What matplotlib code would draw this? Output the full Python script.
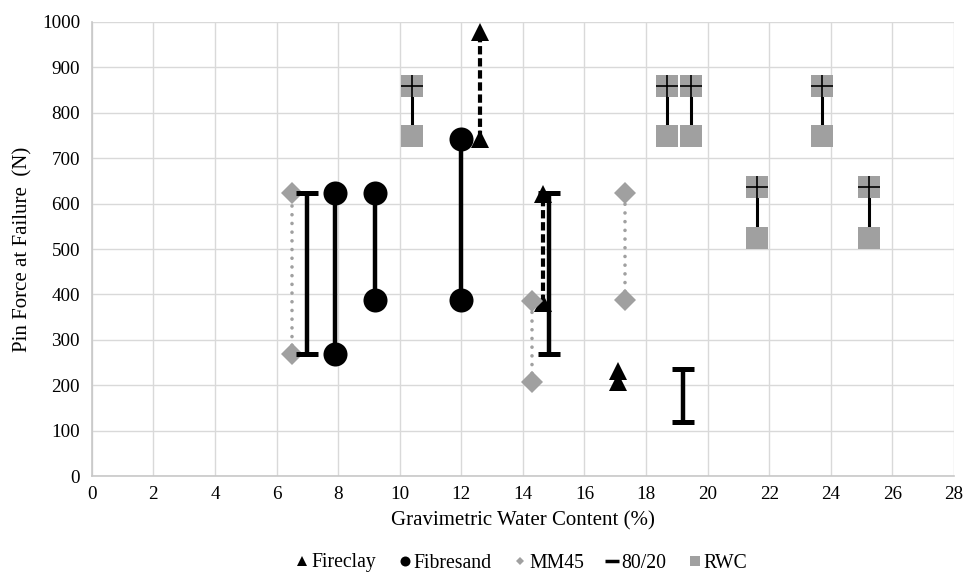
import matplotlib
matplotlib.use("Agg")
import matplotlib.pyplot as plt
from matplotlib.lines import Line2D

plt.rcParams['font.family'] = ['Liberation Serif', 'DejaVu Serif']

# ---- data ----
fireclay_x = [12.6, 14.65, 17.1]
fireclay_low = [742, 380, 207]
fireclay_high = [978, 621, 232]

fibresand_x = [7.9, 9.2, 12.0]
fibresand_low = [268, 387, 387]
fibresand_high = [624, 624, 742]

mm45_x = [6.5, 14.3, 17.3]
mm45_low = [268, 207, 387]
mm45_high = [624, 386, 624]

blend_x = [7.0, 14.85, 19.2]
blend_low = [268, 268, 118]
blend_high = [624, 623, 236]

rwc_x = [10.4, 18.68, 19.46, 21.6, 23.7, 25.25]
rwc_low = [748, 748, 748, 524, 748, 524]
rwc_high = [860, 860, 860, 636, 860, 636]

legend_labels = ["Fireclay", "Fibresand", "MM45", "80/20", "RWC"]
x_ticks = list(range(0, 29, 2))
y_ticks = list(range(0, 1001, 100))

GRAY = '#a0a0a0'

fig = plt.figure(figsize=(9.78, 5.74), dpi=100)
ax = fig.add_axes([0.0938, 0.1707, 0.8817, 0.791])

# Fireclay: dashed black with triangles
for x, lo, hi in zip(fireclay_x, fireclay_low, fireclay_high):
    ax.plot([x, x], [lo, hi], color='black', lw=3.0, linestyle=(0, (2.0, 0.9)),
            marker='^', markersize=13.3, markeredgewidth=0, markerfacecolor='black',
            zorder=3, clip_on=False)

# Fibresand: solid black with circles
for x, lo, hi in zip(fibresand_x, fibresand_low, fibresand_high):
    ax.plot([x, x], [lo, hi], color='black', lw=3.2, solid_capstyle='butt',
            marker='o', markersize=17.3, markeredgewidth=0, markerfacecolor='black',
            zorder=4)

# MM45: dotted gray with diamonds
for x, lo, hi in zip(mm45_x, mm45_low, mm45_high):
    ax.plot([x, x], [lo, hi], color=GRAY, lw=2.6, linestyle=(0, (0.01, 2.4)),
            dash_capstyle='round', zorder=5)
    ax.plot([x, x], [lo, hi], linestyle='none', marker='D', markersize=11.7,
            markeredgewidth=0, markerfacecolor=GRAY, zorder=5)

# 80/20: solid black with dash caps
for x, lo, hi in zip(blend_x, blend_low, blend_high):
    ax.plot([x, x], [lo, hi], color='black', lw=3.2, solid_capstyle='butt',
            marker='_', markersize=16.5, markeredgewidth=3.6, markeredgecolor='black',
            zorder=6)

# RWC: solid black with gray squares, plus on top square
for x, lo, hi in zip(rwc_x, rwc_low, rwc_high):
    ax.plot([x, x], [lo, hi], color='black', lw=2.2, solid_capstyle='butt', zorder=7)
    ax.plot([x, x], [lo, hi], linestyle='none', marker='s', markersize=16.0,
            markeredgewidth=0, markerfacecolor=GRAY, zorder=7)
    ax.plot([x], [hi], linestyle='none', marker='+', markersize=16.0,
            markeredgewidth=1.2, markeredgecolor='black', zorder=8)

ax.set_xlim(0, 28)
ax.set_ylim(0, 1000)
ax.set_xticks(x_ticks)
ax.set_yticks(y_ticks)
ax.tick_params(axis='both', length=0, labelsize=13.8, colors='black')
ax.tick_params(axis='x', pad=7)
ax.tick_params(axis='y', pad=8.5)
ax.grid(True, color='#d9d9d9', lw=1.0)
ax.set_axisbelow(True)
for s in ['top', 'right']:
    ax.spines[s].set_visible(False)
for s in ['left', 'bottom']:
    ax.spines[s].set_color('#c8c8c8')
    ax.spines[s].set_linewidth(1.2)

ax.set_xlabel("Gravimetric Water Content (%)", fontsize=15, labelpad=6)
ax.set_ylabel("Pin Force at Failure  (N)", fontsize=15, labelpad=7)

handles = [
    Line2D([], [], linestyle='none', marker='^', markersize=7.5, color='black', markeredgewidth=0),
    Line2D([], [], linestyle='none', marker='o', markersize=7.2, color='black', markeredgewidth=0),
    Line2D([], [], linestyle='none', marker='D', markersize=4.2, color=GRAY, markeredgewidth=0),
    Line2D([], [], linestyle='none', marker='_', markersize=9.5, color='black', markeredgewidth=2.5),
    Line2D([], [], linestyle='none', marker='s', markersize=6.5, color=GRAY, markeredgewidth=0),
]
fig.legend(handles, legend_labels, loc='center', bbox_to_anchor=(521.5 / 978, 1 - 563 / 574),
           ncol=5, frameon=False, fontsize=14.2, handlelength=0.7, handletextpad=0.1,
           columnspacing=1.1)

fig.savefig("out.png", dpi=100)
